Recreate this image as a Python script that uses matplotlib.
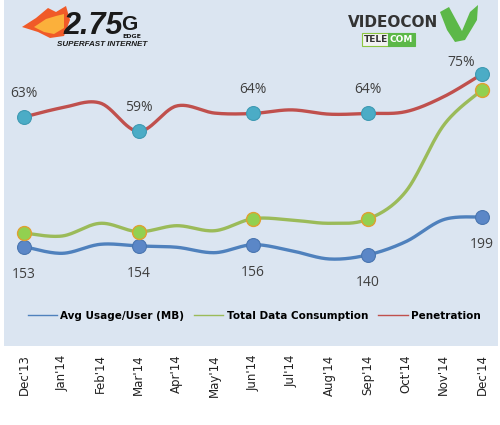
import numpy as np
import matplotlib.pyplot as plt
from matplotlib.lines import Line2D
from matplotlib.patches import Polygon

months = ["Dec'13", "Jan'14", "Feb'14", "Mar'14", "Apr'14", "May'14", "Jun'14",
          "Jul'14", "Aug'14", "Sep'14", "Oct'14", "Nov'14", "Dec'14"]
penetration = [63, 65.6, 66.9, 59, 66.1, 64.1, 64, 65, 63.8, 64, 64.5, 68.7, 75]
avg_usage = [153, 142.6, 156.6, 154, 152, 143.6, 156, 146.7, 133.8, 140, 160.6, 195, 199]
total_data = [27, 24, 36.7, 28.3, 34.3, 29.3, 41.3, 40, 36.7, 40.7, 68.3, 135, 170]
marked = [0, 3, 6, 9, 12]
pen_labels = ["63%", "59%", "64%", "64%", "75%"]
usage_labels = ["153", "154", "156", "140", "199"]

W, H = 500, 425


def smooth(y, n=30):
    # excel-style smoothed line (catmull-rom bezier)
    y = np.asarray(y, float)
    x = np.arange(len(y), dtype=float)
    p = np.column_stack([x, y])
    p = np.vstack([p[0], p, p[-1]])
    out = []
    t = np.linspace(0, 1, n)[:, None]
    for i in range(1, len(p) - 2):
        p0, p1, p2, p3 = p[i - 1], p[i], p[i + 1], p[i + 2]
        c1 = p1 + (p2 - p0) / 6
        c2 = p2 - (p3 - p1) / 6
        seg = ((1 - t) ** 3) * p1 + 3 * ((1 - t) ** 2) * t * c1 + 3 * (1 - t) * t ** 2 * c2 + t ** 3 * p2
        out.append(seg)
    out = np.vstack(out)
    return out[:, 0], out[:, 1]


fig = plt.figure(figsize=(5, 4.25), dpi=100)
ax = fig.add_axes([4 / W, 79 / H, 494 / W, 346 / H])
ax.set_facecolor("#dbe5f1")
ax2 = ax.twinx()
ax3 = ax.twinx()

step = (482 - 24) / 12
ax.set_xlim(-(24 - 4) / step, 12 + (498 - 482) / step)
ax.set_ylim(-0.97, 95.7)
ax2.set_ylim(-1.3, 535.9)
ax3.set_ylim(-86, 260)

xm = np.array(marked)

# penetration
sx, sy = smooth(penetration)
ax.plot(sx, sy, color="#c0504d", lw=2.4, solid_capstyle="round")
ax.plot(xm, np.array(penetration)[xm], "o", ms=10, color="#4bacc6", mec="#3f9ab3", mew=0.8)

# avg usage
sx, sy = smooth(avg_usage)
ax2.plot(sx, sy, color="#4f81bd", lw=2.4, solid_capstyle="round")
ax2.plot(xm, np.array(avg_usage)[xm], "o", ms=10, color="#5b87c7", mec="#4a76b0", mew=0.8)

# total data
sx, sy = smooth(total_data)
ax3.plot(sx, sy, color="#9bbb59", lw=2.4, solid_capstyle="round")
ax3.plot(xm, np.array(total_data)[xm], "o", ms=10, color="#92d050", mec="#e0a030", mew=1.0)

lab_font = dict(fontsize=10, color="#404040", family="Open Sans")
for i, (k, t) in enumerate(zip(marked, pen_labels)):
    off = (0, 17) if i < 4 else (-15, 8)
    ax.annotate(t, (k, penetration[k]), xytext=off, textcoords="offset points",
                ha="center", va="center", **lab_font)
for k, t in zip(marked, usage_labels):
    ax2.annotate(t, (k, avg_usage[k]), xytext=(0, -20), textcoords="offset points",
                 ha="center", va="center", **lab_font)

for a in (ax, ax2, ax3):
    for s in a.spines.values():
        s.set_visible(False)
    a.set_yticks([])
ax.set_xticks(range(len(months)))
ax.set_xticklabels(months, rotation=90, fontsize=8.5, color="#222222", family="DejaVu Sans")
ax.tick_params(axis="x", length=0, pad=6)

handles = [Line2D([], [], color="#4f81bd", lw=1),
           Line2D([], [], color="#9bbb59", lw=1),
           Line2D([], [], color="#c0504d", lw=1)]
ax3.legend(handles, ["Avg Usage/User (MB)", "Total Data Consumption", "Penetration"],
           loc="center", bbox_to_anchor=(0.506, 0.087), ncol=3, frameon=False,
           prop=dict(weight="bold", size=7.5), handlelength=2.8, handletextpad=0.3,
           columnspacing=1.0)


def fx(px):
    return px / W


def fy(py):
    return 1 - py / H


# 2.75G logo
flame_out = [(22, 27), (36, 18), (48, 8), (56, 12), (66, 6), (70, 20), (64, 36), (50, 38), (38, 32)]
flame_in = [(34, 27), (46, 19), (56, 16), (64, 14), (64, 28), (54, 34), (44, 32)]
fig.add_artist(Polygon([(fx(a), fy(b)) for a, b in flame_out], closed=True,
                       transform=fig.transFigure, fc="#f05a28", ec="none"))
fig.add_artist(Polygon([(fx(a), fy(b)) for a, b in flame_in], closed=True,
                       transform=fig.transFigure, fc="#fbb03b", ec="none"))
fig.text(fx(63), fy(34), "2.75", fontsize=22, weight="bold", style="italic",
         family="Liberation Sans", color="#1a1a1a", va="baseline")
fig.text(fx(121), fy(30), "G", fontsize=15, weight="bold", family="Liberation Sans",
         color="#1a1a1a", va="baseline")
fig.text(fx(122), fy(38), "EDGE", fontsize=4.5, weight="bold", color="#1a1a1a", va="baseline")
fig.text(fx(57), fy(46), "SUPERFAST INTERNET", fontsize=5.8, weight="bold", style="italic",
         family="Liberation Sans", color="#1a1a1a", va="baseline")

# videocon logo
fig.text(fx(348), fy(27), "VIDEOCON", fontsize=11, weight="bold", color="#333333", va="baseline")
fig.text(fx(364), fy(42), "TELE", fontsize=6.5, weight="bold", color="#333333", va="baseline",
         bbox=dict(boxstyle="square,pad=0.2", fc="#f2f2f2", ec="#8cc63f", lw=0.8))
fig.text(fx(390), fy(42), "COM", fontsize=6.5, weight="bold", color="white", va="baseline",
         bbox=dict(boxstyle="square,pad=0.2", fc="#5cb848", ec="#5cb848", lw=0.8))
v_shape = [(440, 12), (449, 7), (462, 31), (470, 12), (478, 5), (477, 20), (465, 40), (455, 42), (447, 30)]
fig.add_artist(Polygon([(fx(a), fy(b)) for a, b in v_shape], closed=True,
                       transform=fig.transFigure, fc="#5cb848", ec="none"))

fig.savefig("out.png", dpi=100)
